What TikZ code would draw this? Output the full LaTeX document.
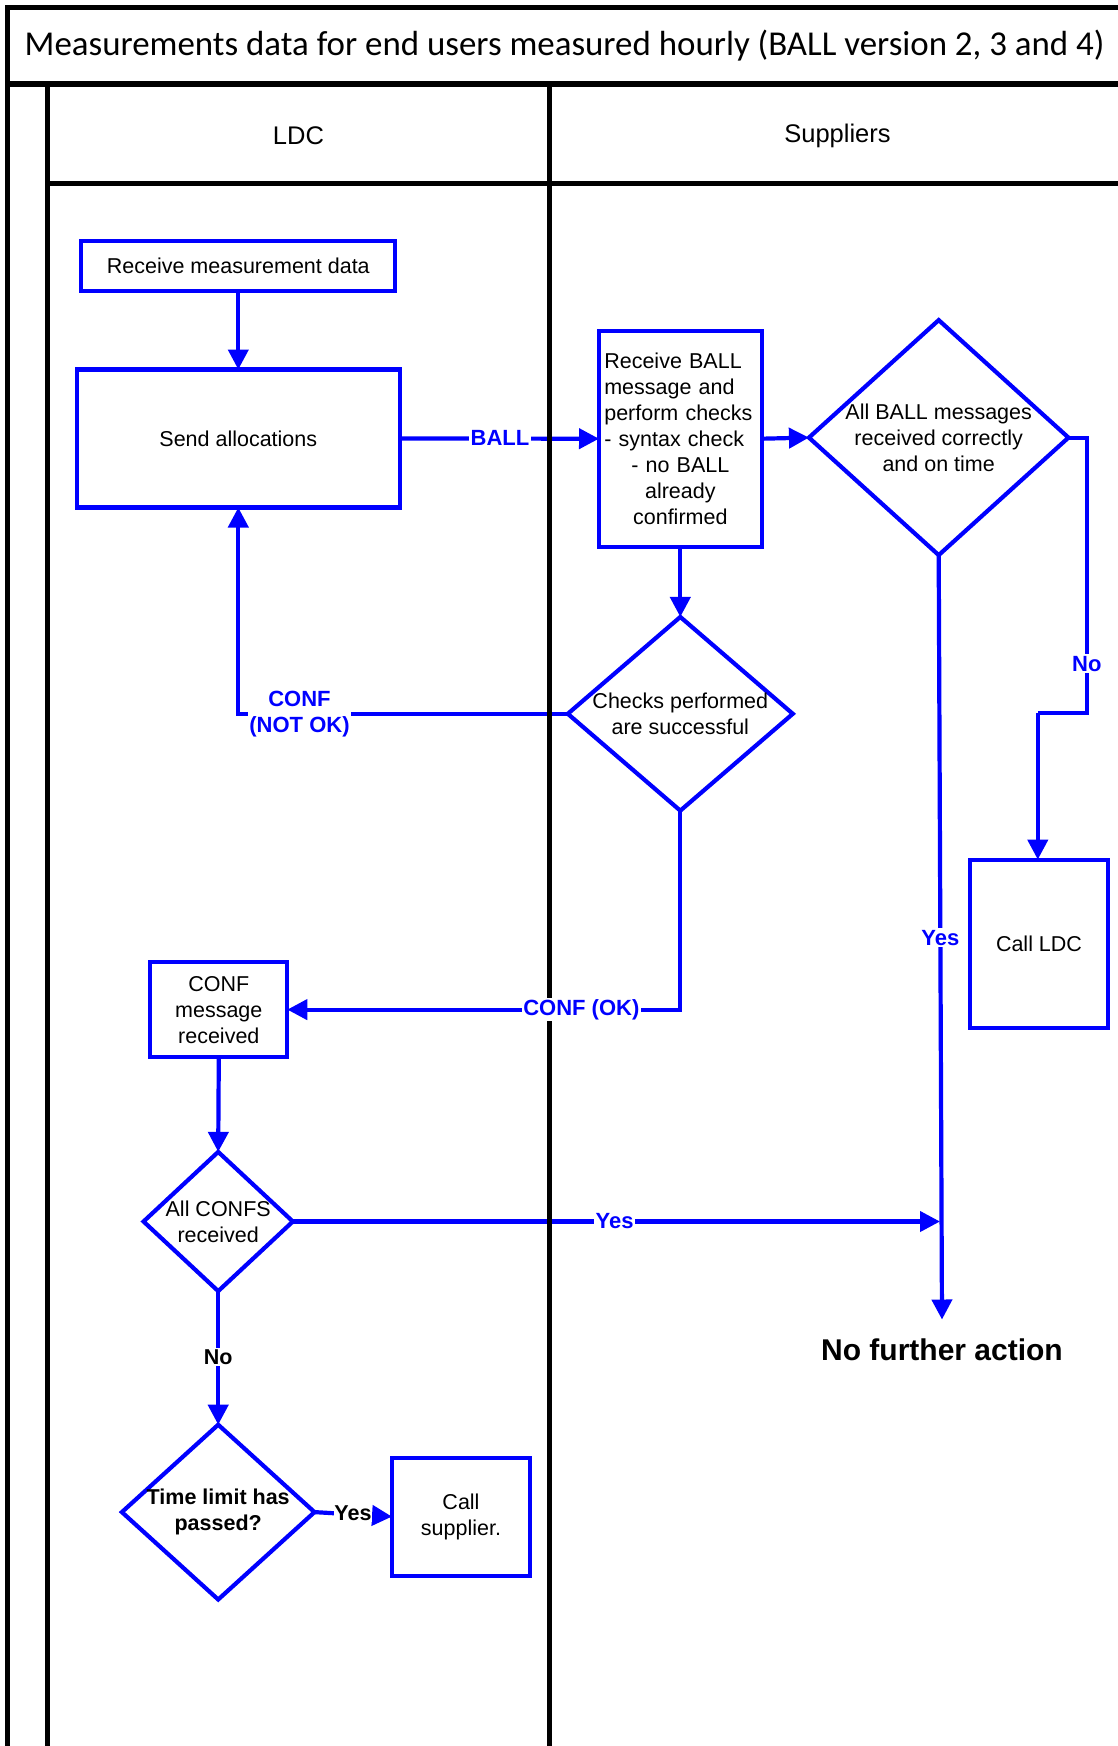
\documentclass[tikz,border=0pt]{standalone}
\usepackage{fontspec}
\setmainfont{Liberation Sans}
\newfontfamily\titlefont{Carlito}
\usetikzlibrary{shapes.geometric,arrows.meta}
\definecolor{flowblue}{RGB}{0,0,255}
\pgfdeclarelayer{lanes}
\pgfdeclarelayer{front}
\pgfsetlayers{main,lanes,front}
\begin{document}
\begin{tikzpicture}[x=1pt,y=-1pt,
  lane/.style={line width=5pt, draw=black, line join=miter},
  box/.style={draw=flowblue, line width=4.2pt, rectangle, inner sep=0pt, outer sep=0pt,
    font=\fontsize{21.5}{26}\selectfont, align=center},
  dia/.style={draw=flowblue, line width=4.2pt, diamond, inner sep=0pt, outer sep=0pt},
  dtext/.style={font=\fontsize{21.5}{26}\selectfont, align=center, inner sep=0pt},
  flow/.style={draw=flowblue, line width=4.2pt, -{Triangle[length=20pt,width=20pt]}},
  plain/.style={draw=flowblue, line width=4.2pt},
  lbl/.style={fill=white, inner sep=1.5pt, font=\bfseries\fontsize{22}{26}\selectfont, text=flowblue, align=center},
  blbl/.style={fill=white, inner sep=1.5pt, font=\bfseries\fontsize{21.5}{25}\selectfont, text=black, align=center},
  head/.style={font=\fontsize{25.5}{30}\selectfont}
]
\useasboundingbox (0,0) rectangle (1118,1746);

% frame and lanes
\begin{pgfonlayer}{lanes}
\draw[lane] (7,1746) -- (7,7) -- (1118,7);
\draw[lane, line width=6pt] (7,84) -- (1118,84);
\draw[lane] (47.5,84) -- (47.5,1746);
\draw[lane] (549,84) -- (549,1746);
\draw[lane] (47.5,183) -- (1118,183);
\end{pgfonlayer}

\node[font=\titlefont\fontsize{34.9}{40}\selectfont, anchor=west, inner sep=0pt] (title) at (24.5,46)
  {Measurements data for end users measured hourly (BALL version 2, 3 and 4)};
\node[head] (ldc) at (298.5,135.5) {LDC};
\node[head] (sup) at (837.5,135.5) {Suppliers};

% boxes
\node[box, minimum width=314pt, minimum height=50pt] (recv) at (238.3,265.6) {Receive measurement data};
\node[box, minimum width=323pt, minimum height=138pt] (send) at (238.3,438.5) {Send allocations};
\node[box, minimum width=162.6pt, minimum height=216pt] (ball) at (680.3,438.7) {};
\node[font=\fontsize{21.5}{26}\selectfont, text width=152pt, inner sep=0pt] (ballt) at (680.3,438.7)
  {{\raggedright Receive BALL\\message and\\perform checks\\- syntax check\par}{\centering - no BALL\\already\\confirmed\par}};
\node[dia, minimum width=259.5pt, minimum height=235pt] (d1) at (938.7,437.6) {};
\node[dtext] (d1t) at (d1.center) {All BALL messages\\received correctly\\and on time};
\node[box, minimum width=138pt, minimum height=168pt] (callldc) at (1039,943.7) {Call LDC};
\node[dia, minimum width=225pt, minimum height=193.7pt] (d2) at (680.3,713.8) {};
\node[dtext] (d2t) at (d2.center) {Checks performed\\are successful};
\node[box, minimum width=137pt, minimum height=94.7pt] (confmsg) at (218.8,1009.6) {CONF\\message\\received};
\node[dia, minimum width=149.3pt, minimum height=139.2pt] (d3) at (218.2,1221.5) {};
\node[dtext] (d3t) at (d3.center) {All CONFS\\received};
\node[dia, minimum width=192.6pt, minimum height=174.8pt] (d4) at (218.2,1512.1) {};
\node[dtext, font=\bfseries\fontsize{21.5}{26}\selectfont] (d4t) at (d4.center) {Time limit has\\passed?};
\node[box, minimum width=138pt, minimum height=118pt] (callsup) at (461,1516.6) {Call\\supplier.};
\node[font=\bfseries\fontsize{30}{34}\selectfont, inner sep=0pt] (nfa) at (942,1349.5) {No further action};

\coordinate (nfatip) at (942,1319.5);
\coordinate (join) at (940,1221.5);

% connectors
\draw[flow] (recv) -- (send);
\draw[flow] (send.east) -- (ball.west);
\draw[flow] (ball.east) -- (d1.west);
\draw[plain] (d1.east) -- (1086.8,437.6) -- (1086.8,712.6) -- (1037.8,712.6);
\draw[flow] (1037.8,712.6) -- (1037.8,859.6);
\draw[flow] (d1.south) -- (nfatip);
\draw[flow] (ball.south) -- (d2.north);
\draw[flow] (d2.west) -| (send.south);
\draw[flow] (d2.south) |- (confmsg.east);
\draw[flow] (confmsg.south) -- (d3.north);
\draw[flow] (d3.east) -- (join);
\draw[flow] (d3.south) -- (d4.north);
\draw[flow] (d4.east) -- (callsup.west);

% labels
\begin{pgfonlayer}{front}
\node[lbl] (lball) at (500,437.6) {BALL};
\node[lbl] (lnotok) at (299.5,714.5) {CONF\\(NOT OK)};
\node[lbl] (lok) at (581.3,1009.6) {CONF (OK)};
\node[lbl] (lno) at (1086.8,663.6) {No};
\node[lbl] (lyes1) at (940.3,937.6) {Yes};
\node[lbl] (lyes2) at (614.7,1221.5) {Yes};
\node[blbl] (lno2) at (218.2,1357.4) {No};
\node[blbl, inner sep=0.5pt] (lyes3) at (353,1513.5) {Yes};
\end{pgfonlayer}
\end{tikzpicture}
\end{document}
